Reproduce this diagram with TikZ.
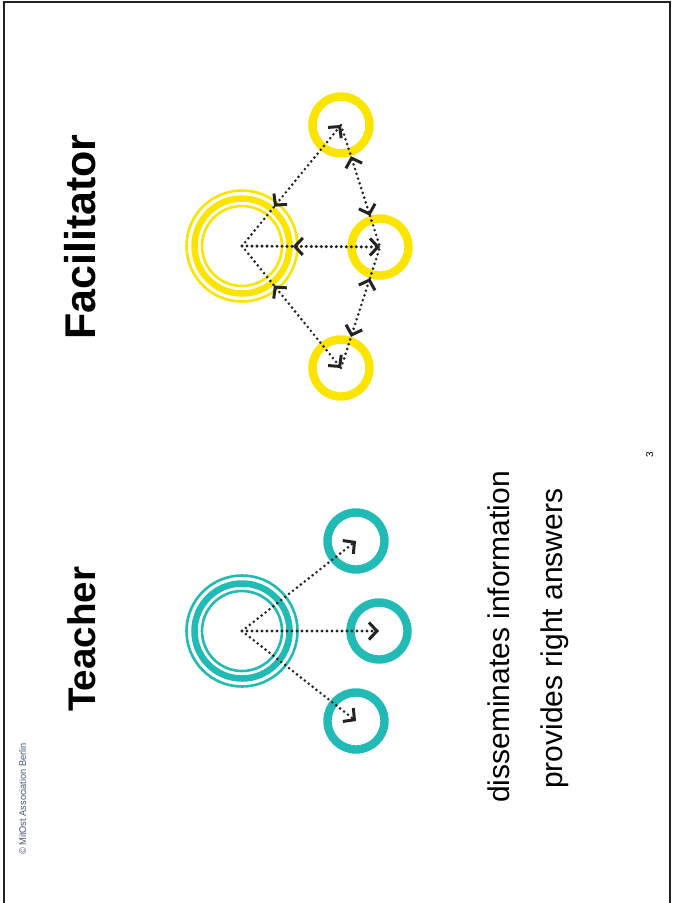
\documentclass[tikz,border=0pt]{standalone}
\usepackage{fontspec}
\setmainfont{Liberation Sans}
\usetikzlibrary{arrows.meta}
\definecolor{tealring}{RGB}{33,186,180}
\definecolor{yellowring}{RGB}{250,228,0}
\definecolor{ink}{RGB}{35,35,35}
\definecolor{note}{RGB}{75,85,115}
\tikzset{
    hub/.style={circle,draw,line width=6.5pt,minimum size=95pt,inner sep=0pt},
    spot/.style={circle,draw,line width=8.4pt,minimum size=57pt,inner sep=0pt},
    halo/.style={line width=2.6pt},
    dots/.style={draw=ink,line width=2.9pt,line cap=round,dash pattern=on 0pt off 5pt},
    edge/.style={dots,->},
    heading/.style={rotate=90,anchor=base west,inner sep=0pt},
    body/.style={rotate=90,anchor=base west,inner sep=0pt,font=\fontsize{30}{32}\selectfont}
}

\begin{document}
\begin{tikzpicture}[x=1pt,y=-1pt,>={Straight Barb[length=8pt,width=17pt,line width=3pt]}]
\useasboundingbox (0,0) rectangle (678,903);
\draw[line width=1.2pt,ink] (4,903) -- (4,2) -- (670,2) -- (670,903);

\node[heading,font=\bfseries\fontsize{43}{45}\selectfont] (facil) at (95,340) {Facilitator};
\node[heading,font=\bfseries\fontsize{38.5}{40}\selectfont] (teach) at (95,712) {Teacher};
\node[body] (info) at (509.5,803) {disseminates information};
\node[body] (answ) at (562.5,789) {provides right answers};
\node[heading,font=\fontsize{9.8}{10}\selectfont,text=note] (copy) at (26,855) {\scalebox{0.94}[1]{© MitOst Association Berlin}};
\node[rotate=90,anchor=base,inner sep=0pt,font=\fontsize{10}{11}\selectfont] (page) at (653,455) {3};

% teacher
\node[hub,draw=tealring] (t0) at (242,631) {};
\draw[halo,tealring] (t0.center) circle (55.5) (t0.center) circle (40);
\node[spot,draw=tealring] (t1) at (356,541) {};
\node[spot,draw=tealring] (t2) at (379,631) {};
\node[spot,draw=tealring] (t3) at (356,721) {};

\draw[edge] (t0.center) -- (t1.center);
\draw[edge,line width=3.4pt] (t0.center) -- (t2.center);
\draw[edge] (t0.center) -- (t3.center);

% facilitator
\node[hub,draw=yellowring] (f0) at (242,246) {};
\draw[halo,yellowring] (f0.center) circle (55.5) (f0.center) circle (40);
\node[spot,draw=yellowring] (f1) at (341,125) {};
\node[spot,draw=yellowring] (f2) at (380,247) {};
\node[spot,draw=yellowring] (f3) at (341,368) {};

\path (f0) -- (f1.center) coordinate[pos=0] (h1);
\path (f0) -- (f2.center) coordinate[pos=0] (h2);
\path (f0) -- (f3.center) coordinate[pos=0] (h3);
\path (f1) -- (f2) coordinate[pos=0] (p1) coordinate[pos=1] (p2);
\path (f3) -- (f2) coordinate[pos=0] (q3) coordinate[pos=1] (q2);

\draw[dots] (f0.center) -- (h1);
\draw[edge,<->] (h1) -- (f1.center);
\draw[dots,line width=3.4pt] (f0.center) -- (h2);
\draw[edge,<->,line width=3.4pt] (h2) -- (f2.center);
\draw[dots] (f0.center) -- (h3);
\draw[edge,<->] (h3) -- (f3.center);

\draw[dots] (f1.center) -- (p1);
\draw[edge,<->] (p1) -- (p2);
\draw[dots] (p2) -- (f2.center);
\draw[dots] (f3.center) -- (q3);
\draw[edge,<->] (q3) -- (q2);
\draw[dots] (q2) -- (f2.center);

\end{tikzpicture}
\end{document}
